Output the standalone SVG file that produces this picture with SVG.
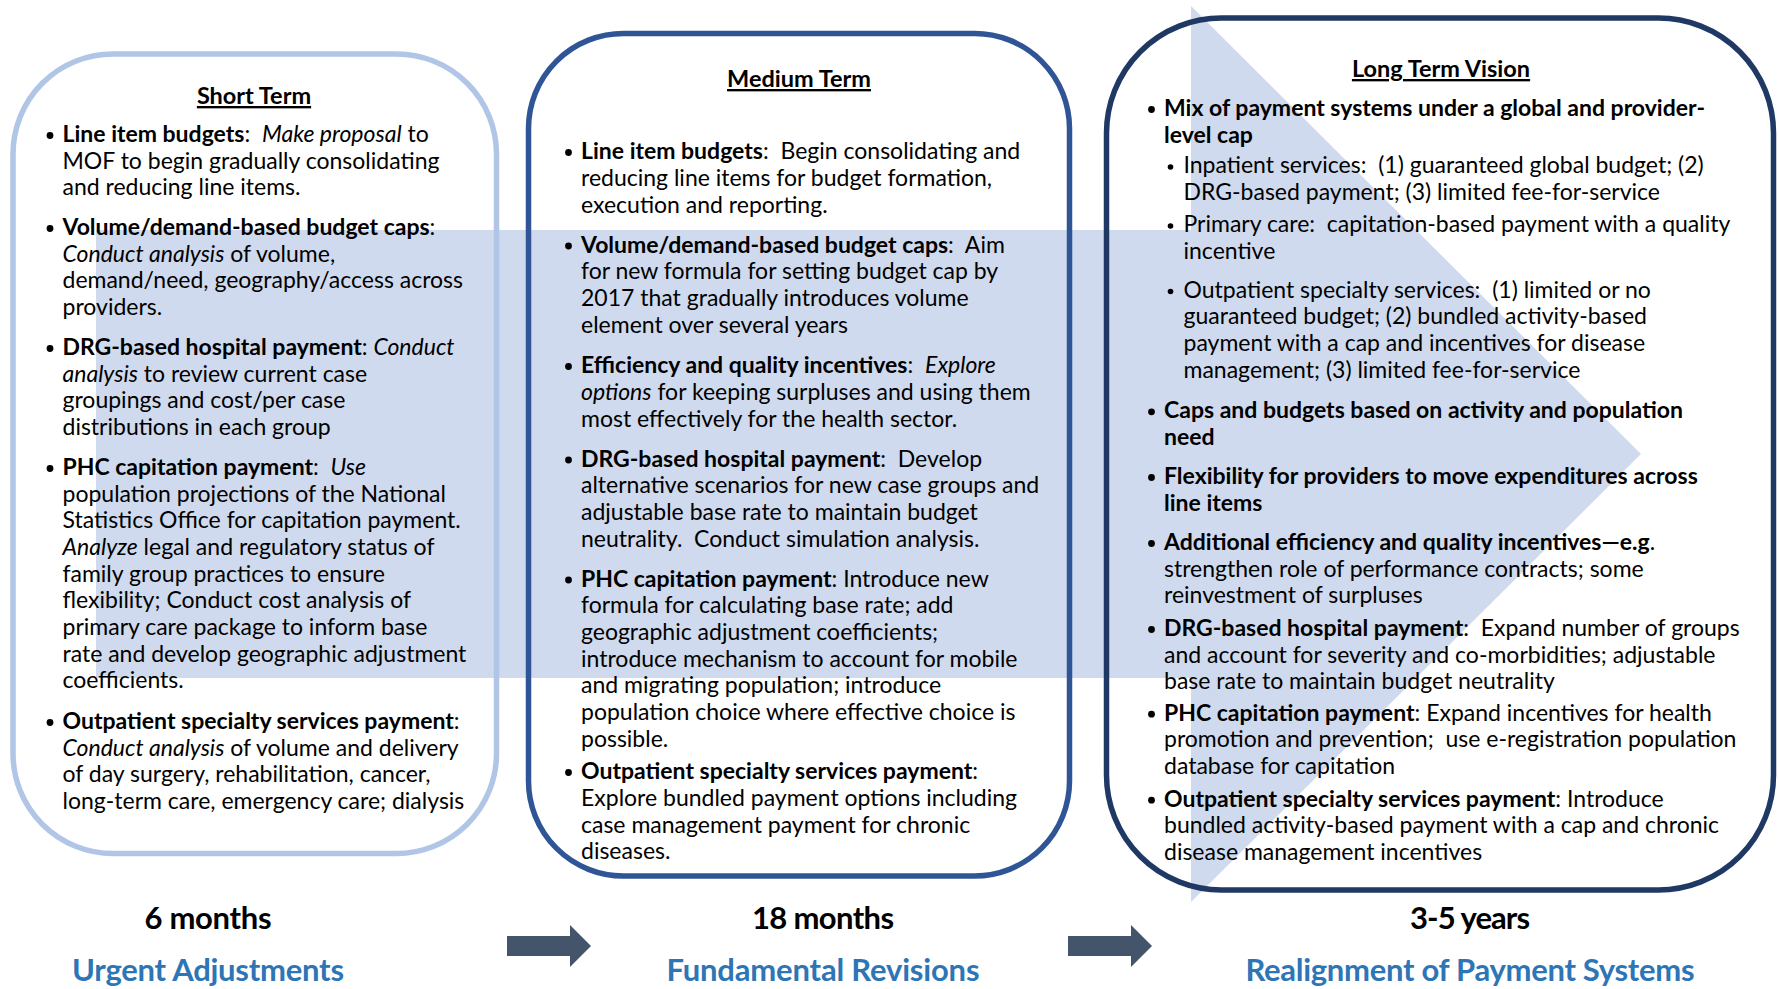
<svg xmlns="http://www.w3.org/2000/svg" width="1779" height="989" viewBox="0 0 1779 989">
  <style>
    .t { font-family: Lato, "Liberation Sans", sans-serif; font-size: 23px; fill: #000; white-space: pre; }
    .b { font-weight: 700; }
    .i { font-style: italic; }
    .ttl { font-family: Lato, "Liberation Sans", sans-serif; font-size: 23.5px; font-weight: 700; text-decoration: underline; text-anchor: middle; fill: #000; }
    .per { font-family: Lato, "Liberation Sans", sans-serif; font-size: 31px; font-weight: 700; text-anchor: middle; fill: #000; }
    .phase { font-family: Lato, "Liberation Sans", sans-serif; font-size: 31px; font-weight: 700; text-anchor: middle; fill: #2E75B6; }
    .blt { fill: #000; }
    .box { fill: none; stroke-width: 5.5; }
    .step { fill: #44546A; }
  </style>

  <!-- large background arrow running through all three stages -->
  <polygon id="timeline-arrow" points="96,230 1191,230 1191,6 1641,454 1191,902 1191,678 96,678" fill="#CFDAEE"/>

  <!-- stage frames -->
  <g id="short-term">
    <rect class="box" x="13" y="54" width="483.5" height="799.5" rx="100" ry="100" stroke="#B1C5E6" stroke-width="6"/>
    <text class="ttl" x="254" y="104">Short Term</text>
    <g class="blt">
      <circle cx="50" cy="135.5" r="3.4"/>
      <circle cx="50" cy="228.5" r="3.4"/>
      <circle cx="50" cy="348.5" r="3.4"/>
      <circle cx="50" cy="468.5" r="3.4"/>
      <circle cx="50" cy="722.5" r="3.4"/>
    </g>
    <text class="t" x="62.5" y="142"><tspan class="b">Line item budgets</tspan>:  <tspan class="i">Make proposal</tspan> to</text>
    <text class="t" x="62.5" y="168.5">MOF to begin gradually consolidating</text>
    <text class="t" x="62.5" y="195">and reducing line items.</text>
    <text class="t" x="62.5" y="235"><tspan class="b">Volume/demand-based budget caps</tspan>:</text>
    <text class="t" x="62.5" y="261.7"><tspan class="i">Conduct analysis</tspan> of volume,</text>
    <text class="t" x="62.5" y="288.3">demand/need, geography/access across</text>
    <text class="t" x="62.5" y="315">providers.</text>
    <text class="t" x="62.5" y="355"><tspan class="b">DRG-based hospital payment</tspan>: <tspan class="i">Conduct</tspan></text>
    <text class="t" x="62.5" y="381.7"><tspan class="i">analysis</tspan> to review current case</text>
    <text class="t" x="62.5" y="408.3">groupings and cost/per case</text>
    <text class="t" x="62.5" y="435">distributions in each group</text>
    <text class="t" x="62.5" y="475"><tspan class="b">PHC capitation payment</tspan>:  <tspan class="i">Use</tspan></text>
    <text class="t" x="62.5" y="501.7">population projections of the National</text>
    <text class="t" x="62.5" y="528.3">Statistics Office for capitation payment.</text>
    <text class="t" x="62.5" y="555"><tspan class="i">Analyze</tspan> legal and regulatory status of</text>
    <text class="t" x="62.5" y="581.7">family group practices to ensure</text>
    <text class="t" x="62.5" y="608.3">flexibility; Conduct cost analysis of</text>
    <text class="t" x="62.5" y="635">primary care package to inform base</text>
    <text class="t" x="62.5" y="661.7">rate and develop geographic adjustment</text>
    <text class="t" x="62.5" y="688.3">coefficients.</text>
    <text class="t" x="62.5" y="729"><tspan class="b">Outpatient specialty services payment</tspan>:</text>
    <text class="t" x="62.5" y="755.7"><tspan class="i">Conduct analysis</tspan> of volume and delivery</text>
    <text class="t" x="62.5" y="782.3">of day surgery, rehabilitation, cancer,</text>
    <text class="t" x="62.5" y="809">long-term care, emergency care; dialysis</text>
  </g>

  <g id="medium-term">
    <rect class="box" x="528.5" y="33.5" width="541" height="842.5" rx="95" ry="95" stroke="#2F5597"/>
    <text class="ttl" x="799" y="87">Medium Term</text>
    <g class="blt">
      <circle cx="568.5" cy="152.5" r="3.4"/>
      <circle cx="568.5" cy="246" r="3.4"/>
      <circle cx="568.5" cy="366.5" r="3.4"/>
      <circle cx="568.5" cy="460" r="3.4"/>
      <circle cx="568.5" cy="580" r="3.4"/>
      <circle cx="568.5" cy="772.5" r="3.4"/>
    </g>
    <text class="t" x="581" y="159"><tspan class="b">Line item budgets</tspan>:  Begin consolidating and</text>
    <text class="t" x="581" y="186">reducing line items for budget formation,</text>
    <text class="t" x="581" y="212.7">execution and reporting.</text>
    <text class="t" x="581" y="252.7"><tspan class="b">Volume/demand-based budget caps</tspan>:  Aim</text>
    <text class="t" x="581" y="279.3">for new formula for setting budget cap by</text>
    <text class="t" x="581" y="306">2017 that gradually introduces volume</text>
    <text class="t" x="581" y="332.7">element over several years</text>
    <text class="t" x="581" y="373.3"><tspan class="b">Efficiency and quality incentives</tspan>:  <tspan class="i">Explore</tspan></text>
    <text class="t" x="581" y="400"><tspan class="i">options</tspan> for keeping surpluses and using them</text>
    <text class="t" x="581" y="426.7">most effectively for the health sector.</text>
    <text class="t" x="581" y="466.7"><tspan class="b">DRG-based hospital payment</tspan>:  Develop</text>
    <text class="t" x="581" y="493.3">alternative scenarios for new case groups and</text>
    <text class="t" x="581" y="520">adjustable base rate to maintain budget</text>
    <text class="t" x="581" y="546.7">neutrality.  Conduct simulation analysis.</text>
    <text class="t" x="581" y="586.7"><tspan class="b">PHC capitation payment</tspan>: Introduce new</text>
    <text class="t" x="581" y="613.3">formula for calculating base rate; add</text>
    <text class="t" x="581" y="640">geographic adjustment coefficients;</text>
    <text class="t" x="581" y="666.7">introduce mechanism to account for mobile</text>
    <text class="t" x="581" y="693.3">and migrating population; introduce</text>
    <text class="t" x="581" y="720">population choice where effective choice is</text>
    <text class="t" x="581" y="746.7">possible.</text>
    <text class="t" x="581" y="779.3"><tspan class="b">Outpatient specialty services payment</tspan>:</text>
    <text class="t" x="581" y="806">Explore bundled payment options including</text>
    <text class="t" x="581" y="832.7">case management payment for chronic</text>
    <text class="t" x="581" y="859.3">diseases.</text>
  </g>

  <g id="long-term">
    <rect class="box" x="1106.5" y="18" width="667" height="872" rx="115" ry="115" stroke="#203864"/>
    <text class="ttl" x="1441" y="77">Long Term Vision</text>
    <g class="blt">
      <circle cx="1151.5" cy="109.5" r="3.4"/>
      <circle cx="1170.5" cy="167" r="2.8"/>
      <circle cx="1170.5" cy="226" r="2.8"/>
      <circle cx="1170.5" cy="291.5" r="2.8"/>
      <circle cx="1151.5" cy="411.8" r="3.4"/>
      <circle cx="1151.5" cy="477.5" r="3.4"/>
      <circle cx="1151.5" cy="543.5" r="3.4"/>
      <circle cx="1151.5" cy="629.5" r="3.4"/>
      <circle cx="1151.5" cy="714.2" r="3.4"/>
      <circle cx="1151.5" cy="800.2" r="3.4"/>
    </g>
    <text class="t b" x="1164" y="116">Mix of payment systems under a global and provider-</text>
    <text class="t b" x="1164" y="142.7">level cap</text>
    <text class="t" x="1183.5" y="173.3">Inpatient services:  (1) guaranteed global budget; (2)</text>
    <text class="t" x="1183.5" y="200">DRG-based payment; (3) limited fee-for-service</text>
    <text class="t" x="1183.5" y="232.3">Primary care:  capitation-based payment with a quality</text>
    <text class="t" x="1183.5" y="259">incentive</text>
    <text class="t" x="1183.5" y="297.7">Outpatient specialty services:  (1) limited or no</text>
    <text class="t" x="1183.5" y="324.3">guaranteed budget; (2) bundled activity-based</text>
    <text class="t" x="1183.5" y="351">payment with a cap and incentives for disease</text>
    <text class="t" x="1183.5" y="377.7">management; (3) limited fee-for-service</text>
    <text class="t b" x="1164" y="418.3">Caps and budgets based on activity and population</text>
    <text class="t b" x="1164" y="445">need</text>
    <text class="t b" x="1164" y="484">Flexibility for providers to move expenditures across</text>
    <text class="t b" x="1164" y="510.7">line items</text>
    <text class="t" x="1164" y="550"><tspan class="b">Additional efficiency and quality incentives—e.g</tspan>.</text>
    <text class="t" x="1164" y="576.7">strengthen role of performance contracts; some</text>
    <text class="t" x="1164" y="603.3">reinvestment of surpluses</text>
    <text class="t" x="1164" y="636"><tspan class="b">DRG-based hospital payment</tspan>:  Expand number of groups</text>
    <text class="t" x="1164" y="662.7">and account for severity and co-morbidities; adjustable</text>
    <text class="t" x="1164" y="689.3">base rate to maintain budget neutrality</text>
    <text class="t" x="1164" y="720.7"><tspan class="b">PHC capitation payment</tspan>: Expand incentives for health</text>
    <text class="t" x="1164" y="747.3">promotion and prevention;  use e-registration population</text>
    <text class="t" x="1164" y="774">database for capitation</text>
    <text class="t" x="1164" y="806.7"><tspan class="b">Outpatient specialty services payment</tspan>: Introduce</text>
    <text class="t" x="1164" y="833.3">bundled activity-based payment with a cap and chronic</text>
    <text class="t" x="1164" y="860">disease management incentives</text>
  </g>

  <!-- step arrows between the stage labels -->
  <g id="connectors">
    <polygon class="step" points="507,936 570,936 570,925 591,946 570,967 570,956 507,956"/>
    <polygon class="step" points="1068,936 1131,936 1131,925 1152,946 1131,967 1131,956 1068,956"/>
  </g>

  <g id="stage-labels">
    <text class="per" x="208" y="929" textLength="127">6 months</text>
    <text class="phase" x="208" y="981" textLength="272">Urgent Adjustments</text>
    <text class="per" x="823" y="929" textLength="142">18 months</text>
    <text class="phase" x="823" y="981" textLength="313">Fundamental Revisions</text>
    <text class="per" x="1470" y="929" textLength="120">3-5 years</text>
    <text class="phase" x="1470" y="981" textLength="449">Realignment of Payment Systems</text>
  </g>
</svg>
